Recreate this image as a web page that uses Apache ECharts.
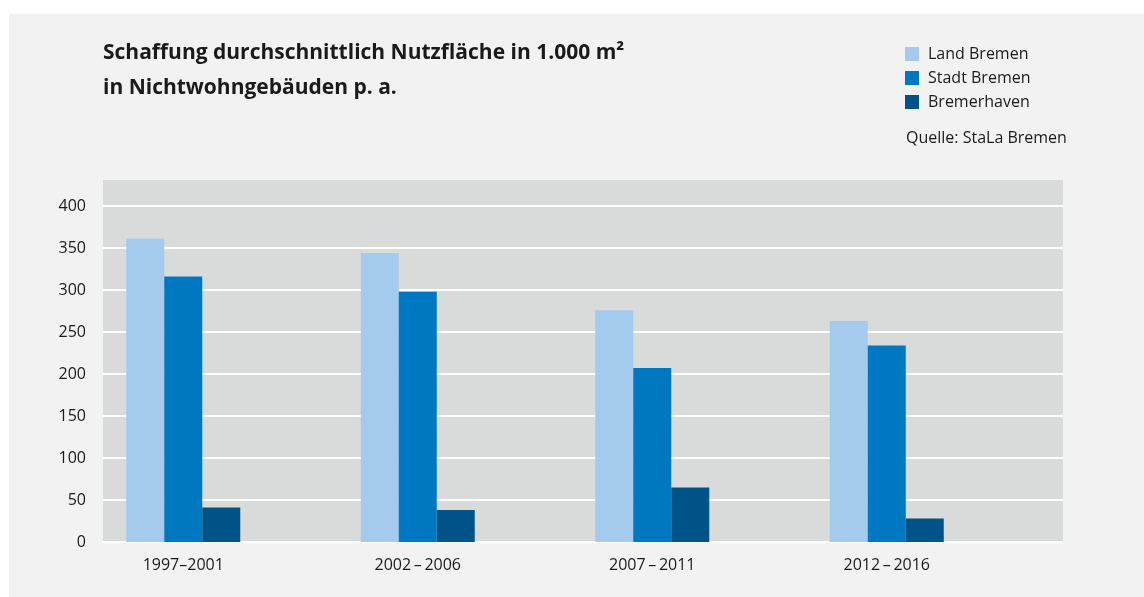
<!DOCTYPE html>
<html>
<head>
<meta charset="utf-8">
<script src="https://cdn.jsdelivr.net/npm/echarts@6/dist/echarts.min.js"></script>
<style>
  html, body { margin: 0; padding: 0; background: #fff; }
  #chart { width: 1144px; height: 597px; }
</style>
</head>
<body>
<div id="chart"></div>
<script>
// Zeiträume
const categories = ['1997–2001', '2002\u2009–\u20092006', '2007\u2009–\u20092011', '2012\u2009–\u20092016'];
// Nutzfläche in 1.000 m² p. a.
const landBremen = [361, 344, 276, 263];
const stadtBremen = [316, 298, 207, 234];
const bremerhaven = [41, 38, 65, 28];
const yTicks = [0, 50, 100, 150, 200, 250, 300, 350, 400];

const font = '"Open Sans", sans-serif';
const textColor = '#1a1a1a';

const chart = echarts.init(document.getElementById('chart'));

const option = {
  backgroundColor: '#ffffff',
  animation: false,
  textStyle: { fontFamily: font, color: textColor },
  graphic: [
    // Hintergrund-Panel
    { type: 'rect', z: -20, shape: { x: 9, y: 14, width: 1135, height: 583 }, style: { fill: '#f2f2f2' } },
    // Plotfläche
    { type: 'rect', z: -10, shape: { x: 103, y: 180, width: 960, height: 362 }, style: { fill: '#d9dada' } },
    {
      type: 'text', left: 103, top: 36,
      style: {
        text: 'Schaffung durchschnittlich Nutzfläche in 1.000 m²\nin Nichtwohngebäuden p. a.',
        font: 'bold 21px ' + font, fill: textColor, lineHeight: 35
      }
    },
    {
      type: 'text', left: 906, top: 130,
      style: { text: 'Quelle: StaLa Bremen', font: '16px ' + font, fill: textColor }
    }
  ],
  legend: {
    orient: 'vertical',
    left: 905,
    top: 46,
    padding: 0,
    itemWidth: 14,
    itemHeight: 14,
    itemGap: 8,
    icon: 'rect',
    textStyle: { fontSize: 16, color: textColor, fontFamily: font, padding: [0, 0, 0, 4] },
    data: ['Land Bremen', 'Stadt Bremen', 'Bremerhaven']
  },
  grid: [
    // Achse und Gitterlinien
    { left: 103, right: 81, top: 206, bottom: 55 },
    // Balken
    { left: 66, right: 140, top: 206, bottom: 55 }
  ],
  xAxis: [
    { gridIndex: 0, type: 'value', min: 0, max: 1, show: false },
    {
      gridIndex: 1, type: 'category', data: categories,
      axisLine: { show: false }, axisTick: { show: false },
      axisLabel: { fontSize: 16, color: textColor, margin: 15, fontFamily: font }
    }
  ],
  yAxis: [
    {
      gridIndex: 0, type: 'value', min: yTicks[0], max: yTicks[yTicks.length - 1], interval: 50,
      axisLine: { show: false }, axisTick: { show: false },
      axisLabel: { fontSize: 16, color: textColor, margin: 17, fontFamily: font },
      splitLine: { lineStyle: { color: '#ffffff', width: 2 } }
    },
    { gridIndex: 1, type: 'value', min: yTicks[0], max: yTicks[yTicks.length - 1], show: false, splitLine: { show: false } }
  ],
  series: [
    { name: 'Land Bremen', type: 'bar', xAxisIndex: 1, yAxisIndex: 1, data: landBremen, barWidth: 38, barGap: '0%', itemStyle: { color: '#a4cbee' } },
    { name: 'Stadt Bremen', type: 'bar', xAxisIndex: 1, yAxisIndex: 1, data: stadtBremen, barWidth: 38, barGap: '0%', itemStyle: { color: '#0078c1' } },
    { name: 'Bremerhaven', type: 'bar', xAxisIndex: 1, yAxisIndex: 1, data: bremerhaven, barWidth: 38, barGap: '0%', itemStyle: { color: '#005387' } }
  ]
};

chart.setOption(option);
</script>
</body>
</html>
